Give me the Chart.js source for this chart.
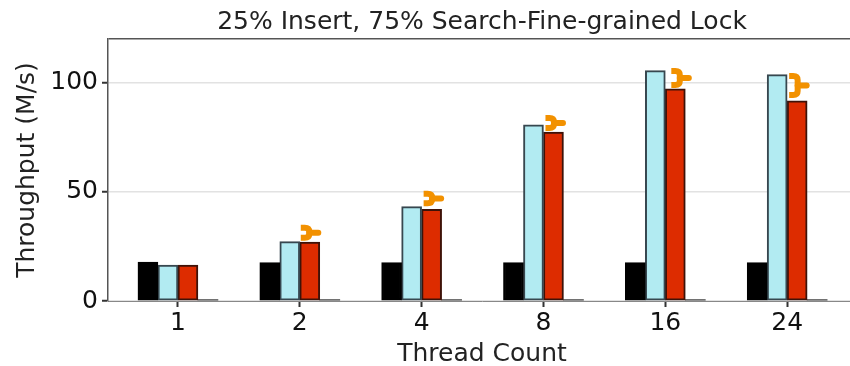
<!DOCTYPE html>
<html>
<head>
<meta charset="utf-8">
<script src="https://cdn.jsdelivr.net/npm/chart.js@4"></script>
<style>
html, body { margin: 0; padding: 0; background: #fff; overflow: hidden; }
#wrap { width: 850px; height: 366px; overflow: hidden; position: relative; }
#wrap canvas { position: absolute; left: 0; top: 0; }
</style>
</head>
<body>
<div id="wrap"><canvas id="chart" width="856" height="366" style="width:856px;height:366px"></canvas></div>
<script>
const threadCounts = ['1', '2', '4', '8', '16', '24'];
const baseline = [17.8, 17.6, 17.6, 17.6, 17.6, 17.6];
const cuckoo = [16.4, 27.2, 43.2, 80.7, 105.5, 103.7];
const fineGrained = [16.4, 27, 42, 77.4, 97.2, 91.7];
const emptySeries = [0, 0, 0, 0, 0, 0];
const braceTop = [null, 33.6, 49.1, 83.8, 105.3, 103];
const braceBottom = [null, 29, 44.8, 79.2, 98.9, 94.3];
const braceShift = [0, 0, 1, 1, 5, 1];

const ink = '#555555';
const tickInk = '#333333';
const fontFamily = '"DejaVu Sans", sans-serif';

function points(values) {
    return values.map((v, i) => ({ x: i, y: v }));
}

// orange braces between the two tall bars of each group
const bracePlugin = {
    id: 'braces',
    afterDatasetsDraw(chart) {
        const { ctx, scales } = chart;
        ctx.save();
        ctx.strokeStyle = '#f29100';
        ctx.lineWidth = 6;
        ctx.lineJoin = 'round';
        threadCounts.forEach((t, i) => {
            if (braceTop[i] === null) return;
            const x = scales.x.getPixelForValue(i) + 1 + braceShift[i];
            const top = scales.y.getPixelForValue(braceTop[i]);
            const bottom = scales.y.getPixelForValue(braceBottom[i]);
            const mid = (top + bottom) / 2;
            ctx.lineCap = 'butt';
            ctx.beginPath();
            ctx.moveTo(x, top);
            ctx.lineTo(x + 4, top);
            ctx.quadraticCurveTo(x + 8.5, top, x + 8.5, Math.min(top + 4, mid));
            ctx.lineTo(x + 8.5, Math.max(bottom - 4, mid));
            ctx.quadraticCurveTo(x + 8.5, bottom, x + 4, bottom);
            ctx.lineTo(x, bottom);
            ctx.stroke();
            ctx.lineCap = 'round';
            ctx.beginPath();
            ctx.moveTo(x + 8.5, mid);
            ctx.lineTo(x + 17.5, mid);
            ctx.stroke();
        });
        ctx.restore();
    }
};

new Chart(document.getElementById('chart').getContext('2d'), {
    type: 'bar',
    data: {
        datasets: [
            { data: points(baseline), backgroundColor: '#000000', borderColor: '#000000' },
            { data: points(cuckoo), backgroundColor: '#b2ebf2', borderColor: '#37474f' },
            { data: points(fineGrained), backgroundColor: '#dd2c00', borderColor: '#3e1208' },
            { data: points(emptySeries), backgroundColor: ink, borderWidth: 0, minBarLength: 1.5 }
        ]
    },
    plugins: [bracePlugin],
    options: {
        responsive: false,
        animation: false,
        layout: { padding: 0 },
        datasets: { bar: { barThickness: 20, borderWidth: 2, borderSkipped: false } },
        plugins: {
            legend: { display: false },
            tooltip: { enabled: false },
            title: {
                display: true,
                fullSize: false,
                text: '25% Insert, 75% Search-Fine-grained Lock',
                color: '#222222',
                font: { family: fontFamily, size: 25, weight: 'normal' },
                padding: { top: 7, bottom: 2 }
            }
        },
        scales: {
            x: {
                type: 'linear',
                offset: false,
                min: -0.574,
                max: 5.565,
                afterFit(scale) { scale.height = 65; },
                grid: { display: true, offset: false, drawOnChartArea: false, drawTicks: true, tickLength: 6, tickColor: tickInk, tickWidth: 2 },
                border: { display: true, color: '#888888', width: 1 },
                ticks: {
                    stepSize: 1,
                    includeBounds: false,
                    color: '#111111',
                    font: { family: fontFamily, size: 25 },
                    padding: 1,
                    maxRotation: 0,
                    callback: v => threadCounts[v]
                },
                title: { display: true, text: 'Thread Count', color: '#222222', font: { family: fontFamily, size: 25 }, padding: { top: 0, bottom: -3 } }
            },
            y: {
                min: 0,
                max: 120,
                afterFit(scale) { scale.width = 108; },
                grid: {
                    color: c => (c.tick && c.tick.value === 120 ? ink : '#e2e2e2'),
                    lineWidth: 1.5,
                    drawTicks: true,
                    tickLength: 6,
                    tickWidth: 2,
                    tickColor: c => (c.tick && c.tick.value === 120 ? 'rgba(0,0,0,0)' : tickInk)
                },
                border: { display: true, color: ink, width: 1.5 },
                ticks: {
                    stepSize: 50,
                    color: '#111111',
                    font: { family: fontFamily, size: 25 },
                    padding: 4,
                    callback: v => (v === 120 ? '' : v)
                },
                title: { display: true, text: 'Throughput (M/s)', color: '#222222', font: { family: fontFamily, size: 25 }, padding: { top: 12, bottom: 0 } }
            }
        }
    }
});
</script>
</body>
</html>
